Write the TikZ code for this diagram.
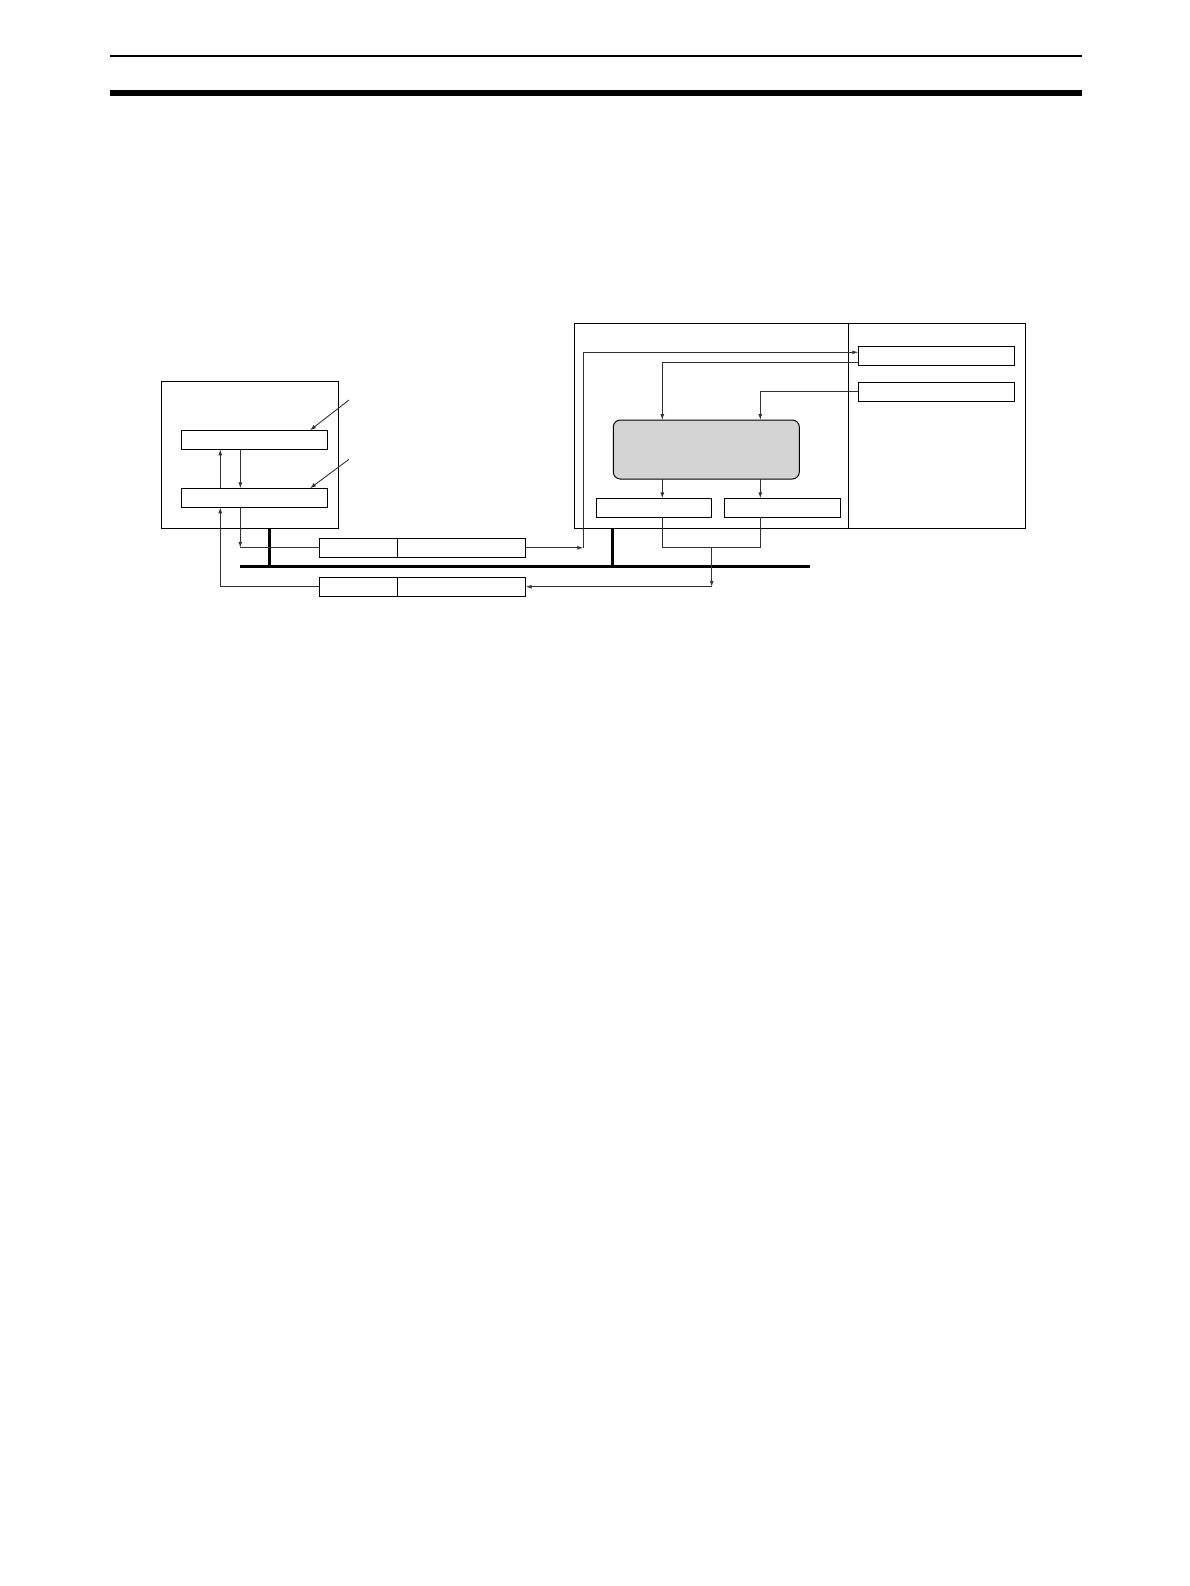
\documentclass[tikz,border=0pt]{standalone}
\usepackage{xcolor}
\usepackage{tikz}
\usetikzlibrary{arrows.meta, positioning}
\definecolor{procgray}{RGB}{212, 212, 212}
\definecolor{wiregray}{RGB}{50, 50, 50}

\begin{document}
\begin{tikzpicture}[x=1pt, y=-1pt,
    box/.style={draw, line width=1pt, inner sep=0pt, outer sep=0pt},
    procbox/.style={box, fill=procgray, rounded corners=7pt},
    arr/.style={draw=wiregray, line width=0.9pt, -{Latex[length=6pt,width=4pt]}},
    wire/.style={draw=wiregray, line width=0.9pt},
    bus/.style={line width=2.6pt}]
\useasboundingbox (0,0) rectangle (1190,1586);

% Page rules
\draw[line width=1.8pt] (110,55.7) -- (1082,55.7);
\draw[line width=6pt] (110,93) -- (1082,93);

% Host side
\node[box, minimum width=176.6, minimum height=146.3] (host) at (250,454.9) {};
\node[box, minimum width=146, minimum height=19] (hbufA) at (254.3,439.8) {};
\node[box, minimum width=146, minimum height=19] (hbufB) at (254.3,497.8) {};
\coordinate (upx) at (220.3,0);
\coordinate (dnx) at (240.3,0);
\coordinate (noteA) at (349,400);
\coordinate (noteB) at (349,459.3);

% Frames on the line
\node[box, minimum width=78, minimum height=19] (cmdhead) at (358.3,547.8) {};
\node[box, minimum width=128.4, minimum height=19, right=0pt of cmdhead] (cmdbody) {};
\node[box, minimum width=78, minimum height=19] (resphead) at (358.3,586.8) {};
\node[box, minimum width=128.4, minimum height=19, right=0pt of resphead] (respbody) {};

% Unit side
\node[box, minimum width=274.3, minimum height=204.6] (unitL) at (711.15,426) {};
\node[box, minimum width=177, minimum height=204.6, right=0pt of unitL] (unitR) {};
\node[box, minimum width=156, minimum height=18.7] (regA) at (936.3,355.65) {};
\node[box, minimum width=156, minimum height=18.7] (regB) at (936.3,391.65) {};
\node[procbox, minimum width=186, minimum height=59] (proc) at (706.3,449.5) {};
\node[box, minimum width=115.4, minimum height=19] (outA) at (654,507.8) {};
\node[box, minimum width=116, minimum height=19] (outB) at (782.3,507.8) {};
\coordinate (inx) at (583.3,0);
\coordinate (inAx) at (662.3,0);
\coordinate (inBx) at (760.3,0);
\coordinate (join) at (711.7,547.3);

% Bus and taps
\coordinate (busL) at (240,566.7);
\coordinate (busR) at (810,566.7);
\coordinate (tapA) at (269.7,0);
\coordinate (tapB) at (612.7,0);
\draw[bus] (busL) -- (busR);
\draw[bus] (host.south -| tapA) -- (busL -| tapA);
\draw[bus] (unitL.south -| tapB) -- (busL -| tapB);

% Host connectors
\draw[arr] (hbufB.north -| upx) -- (hbufA.south -| upx);
\draw[arr] (hbufA.south -| dnx) -- (hbufB.north -| dnx);
\draw[arr] (noteA) -- ([xshift=55.7]hbufA.north);
\draw[arr] (noteB) -- ([xshift=55.7]hbufB.north);
\draw[arr] (hbufB.south -| dnx) -- (cmdhead.west -| dnx);
\draw[wire] (cmdhead.west -| dnx) -- (cmdhead.west);
\draw[arr] (resphead.west) -| (hbufB.south -| upx);

% Command in
\draw[arr] (cmdbody.east) -- (cmdbody.east -| inx);
\draw[arr] (cmdbody.east -| inx) |- ([yshift=3.35pt]regA.west);

% Unit connectors
\draw[arr] ([yshift=-6.65pt]regA.west) -| (proc.north -| inAx);
\draw[arr] (regB.west) -| (proc.north -| inBx);
\draw[arr] (proc.south -| inAx) -- (outA.north -| inAx);
\draw[arr] (proc.south -| inBx) -- (outB.north -| inBx);
\draw[wire] (outA.south -| inAx) |- (join) -| (outB.south -| inBx);

% Response out
\draw[arr] (join) -- (join |- respbody.east);
\draw[arr] (join |- respbody.east) -- (respbody.east);
\end{tikzpicture}
\end{document}
